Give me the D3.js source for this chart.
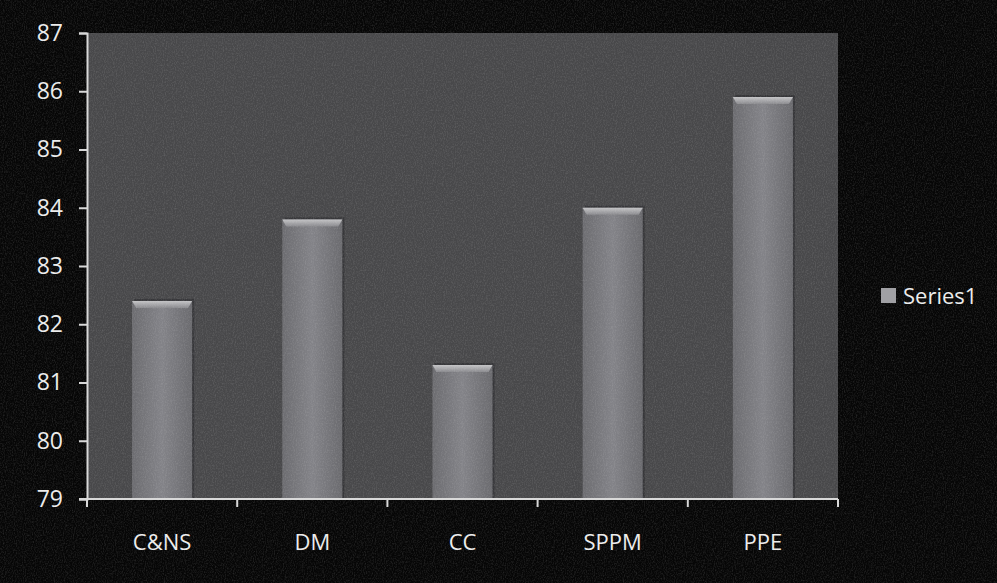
<!DOCTYPE html>
<html>
<head>
<meta charset="utf-8">
<script src="https://cdn.jsdelivr.net/npm/d3@7"></script>
<style>
  html, body { margin: 0; padding: 0; background: #060606; }
  svg { display: block; }
</style>
</head>
<body>
<div id="chart"></div>
<script>
// chart data
const categories = ["C&NS", "DM", "CC", "SPPM", "PPE"];
const values = [82.4, 83.8, 81.3, 84.0, 85.9];
const yTicks = [79, 80, 81, 82, 83, 84, 85, 86, 87];
const seriesName = "Series1";

const w = 997;
const h = 583;
const margin = {top: 33, right: 159, bottom: 84, left: 87};

let svg = d3.select("#chart")
            .append("svg")
            .attr("width", w)
            .attr("height", h);

let defs = svg.append("defs");

// grain for the scanned look
let grain = defs.append("filter").attr("id", "grain")
  .attr("x", 0).attr("y", 0).attr("width", "100%").attr("height", "100%");
grain.append("feTurbulence").attr("type", "fractalNoise")
  .attr("baseFrequency", "0.9 0.6").attr("numOctaves", 2).attr("seed", 4).attr("result", "n");
grain.append("feColorMatrix").attr("in", "n").attr("type", "matrix")
  .attr("values", "0 0 0 0 0.8  0 0 0 0 0.8  0 0 0 0 0.8  0 0 0 -1.6 0.95");
grain.append("feComposite").attr("in2", "SourceGraphic").attr("operator", "in");

let barGrad = defs.append("linearGradient").attr("id", "barGrad")
  .attr("x1", 0).attr("x2", 1).attr("y1", 0).attr("y2", 0);
barGrad.append("stop").attr("offset", "0%").attr("stop-color", "#6c6c70");
barGrad.append("stop").attr("offset", "50%").attr("stop-color", "#838388");
barGrad.append("stop").attr("offset", "100%").attr("stop-color", "#6a6a6e");

let capGrad = defs.append("linearGradient").attr("id", "capGrad")
  .attr("x1", 0).attr("x2", 0).attr("y1", 0).attr("y2", 1);
capGrad.append("stop").attr("offset", "0%").attr("stop-color", "#c4c4c6");
capGrad.append("stop").attr("offset", "100%").attr("stop-color", "#8a8a8e");

const x0 = margin.left, x1 = w - margin.right;
const y0 = margin.top, y1 = h - margin.bottom;

let x = d3.scaleBand().domain(categories).range([x0, x1]).paddingInner(0.6).paddingOuter(0.3);
let xb = d3.scaleBand().domain(categories).range([x0, x1]);
let y = d3.scaleLinear().domain([79, 87]).range([y1, y0]);

// plot area
svg.append("rect")
   .attr("x", x0).attr("y", y0)
   .attr("width", x1 - x0).attr("height", y1 - y0)
   .attr("fill", "#48484a");

// bars
let bars = svg.append("g");
categories.forEach(function(c, i) {
  let bx = x(c), bw = x.bandwidth(), top = y(values[i]);
  bars.append("rect")
      .attr("x", bx + 2).attr("y", top - 2)
      .attr("width", bw).attr("height", y1 - top + 2)
      .attr("fill", "#2c2c2e").attr("opacity", 0.6);
  bars.append("rect")
      .attr("x", bx).attr("y", top)
      .attr("width", bw).attr("height", y1 - top)
      .attr("fill", "url(#barGrad)");
  // bevelled top
  bars.append("path")
      .attr("d", "M" + bx + "," + top + "h" + bw + "l-4,7h" + (-(bw - 8)) + "z")
      .attr("fill", "url(#capGrad)");
});

// noise over everything
svg.append("rect")
   .attr("width", w).attr("height", h)
   .attr("fill", "#fff")
   .attr("filter", "url(#grain)")
   .attr("opacity", 0.18);

// y axis
let yAxis = svg.append("g")
   .attr("transform", "translate(" + x0 + ",0)")
   .call(d3.axisLeft(y).tickValues(yTicks).tickSize(8).tickPadding(16).tickFormat(d3.format("d")));
yAxis.selectAll("text")
   .attr("fill", "#ececec")
   .style("font-family", "'Open Sans', sans-serif")
   .style("font-size", "23px");
yAxis.select(".domain").attr("stroke", "#d8d8d8").attr("stroke-width", 2);
yAxis.selectAll(".tick line").attr("stroke", "#d8d8d8").attr("stroke-width", 2);

// x axis, ticks on the band edges
let xAxis = svg.append("g")
   .attr("transform", "translate(0," + y1 + ")");
xAxis.append("line")
   .attr("x1", x0 - 8).attr("x2", x1)
   .attr("stroke", "#d8d8d8").attr("stroke-width", 2);
xAxis.selectAll(".edge")
   .data(categories.concat(["end"]))
   .enter().append("line")
   .attr("x1", function(d, i) { return i < categories.length ? xb(d) : x1; })
   .attr("x2", function(d, i) { return i < categories.length ? xb(d) : x1; })
   .attr("y1", 0).attr("y2", 8)
   .attr("stroke", "#d8d8d8").attr("stroke-width", 2);
xAxis.selectAll(".lbl")
   .data(categories)
   .enter().append("text")
   .attr("x", function(d) { return xb(d) + xb.bandwidth() / 2; })
   .attr("y", 51)
   .attr("text-anchor", "middle")
   .attr("fill", "#ececec")
   .style("font-family", "'Open Sans', sans-serif")
   .style("font-size", "22px")
   .text(function(d) { return d; });

// legend
let legend = svg.append("g").attr("transform", "translate(881,296)");
legend.append("rect")
   .attr("x", 0).attr("y", -8).attr("width", 15).attr("height", 15)
   .attr("fill", "#a0a0a4");
legend.append("text")
   .attr("x", 22).attr("y", 8)
   .attr("fill", "#ececec")
   .style("font-family", "'Open Sans', sans-serif")
   .style("font-size", "22px")
   .text(seriesName);
</script>
</body>
</html>
